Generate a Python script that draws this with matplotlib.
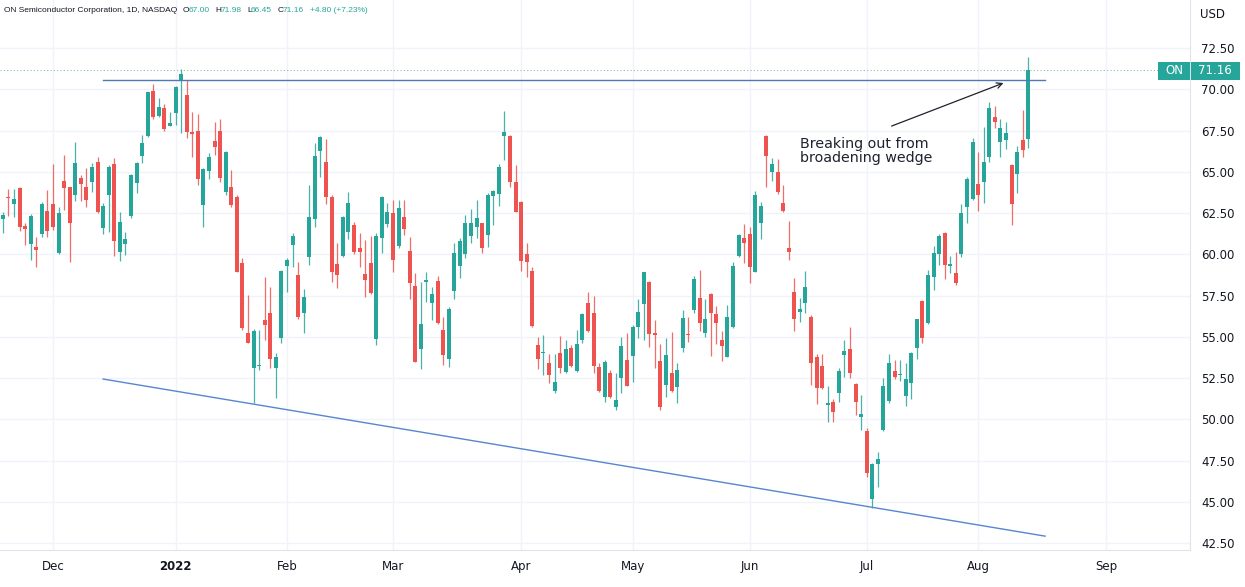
import numpy as np
import pandas as pd
import matplotlib
matplotlib.use('Agg')
import matplotlib.pyplot as plt

# trading calendar (NASDAQ), Nov 17 2021 .. Sep 30 2022
holidays = ['2021-11-25', '2021-12-24', '2022-01-17', '2022-02-21', '2022-04-15',
            '2022-05-30', '2022-06-20', '2022-07-04', '2022-09-05']
first_day, axis_end = '2021-11-17', '2022-09-30'

month_starts = ['2021-12', '2022-01', '2022-02', '2022-03', '2022-04',
                '2022-05', '2022-06', '2022-07', '2022-08', '2022-09']
month_labels = ['Dec', '2022', 'Feb', 'Mar', 'Apr', 'May', 'Jun', 'Jul', 'Aug', 'Sep']

# daily OHLC
opens = [62.12, 63.49, 63.05, 64.03, 61.71, 60.62, 60.46, 61.21, 62.64, 63.04,
         60.10, 64.46, 64.06, 63.59, 64.60, 64.06, 64.40, 65.58, 61.57, 63.59,
         65.47, 60.15, 60.62, 62.32, 64.34, 65.95, 67.17, 69.89, 68.38, 68.85,
         67.79, 68.54, 70.56, 69.65, 67.43, 67.49, 62.98, 65.05, 66.89, 67.49,
         63.79, 64.06, 63.45, 59.45, 55.21, 53.09, 53.23, 56.02, 56.42, 53.09,
         54.91, 59.31, 60.56, 58.74, 56.42, 59.85, 62.12, 66.28, 65.61, 63.45,
         59.41, 59.89, 61.37, 61.77, 60.36, 58.78, 59.49, 54.88, 60.97, 61.83,
         62.48, 60.50, 62.28, 60.20, 58.08, 54.25, 58.34, 57.06, 58.38, 55.41,
         53.63, 57.77, 59.31, 60.02, 61.11, 61.67, 61.88, 61.17, 63.55, 63.65,
         67.17, 67.17, 64.40, 63.19, 60.00, 58.98, 54.50, 54.03, 53.43, 51.73,
         54.00, 52.84, 54.30, 52.92, 54.83, 57.03, 56.42, 53.15, 51.37, 52.82,
         50.76, 52.48, 53.59, 53.83, 55.61, 56.98, 58.34, 55.25, 53.55, 52.08,
         52.82, 51.97, 54.30, 55.17, 56.62, 57.37, 55.21, 57.59, 56.36, 54.80,
         53.79, 55.61, 59.89, 60.97, 61.23, 58.94, 61.91, 67.17, 65.00, 64.97,
         63.13, 60.36, 57.73, 56.52, 57.06, 56.22, 53.75, 53.23, 50.86, 51.06,
         51.57, 53.89, 54.24, 52.14, 50.12, 49.28, 45.15, 47.29, 49.38, 51.12,
         52.94, 52.68, 51.41, 52.18, 54.30, 57.17, 55.85, 58.61, 60.02, 61.27,
         59.27, 58.85, 60.02, 62.85, 63.33, 64.26, 64.40, 65.88, 68.34, 66.82,
         66.92, 65.41, 64.86, 66.92, 67.00]
highs = [62.58, 63.95, 63.95, 64.10, 61.88, 62.44, 61.06, 63.17, 63.89, 65.47,
         62.88, 66.00, 64.10, 66.78, 64.80, 65.21, 65.51, 65.91, 63.09, 65.41,
         65.82, 62.54, 61.37, 64.85, 65.61, 67.23, 69.85, 70.30, 69.45, 69.11,
         68.64, 70.20, 71.21, 70.56, 68.64, 68.50, 65.21, 66.12, 68.00, 68.20,
         66.25, 65.11, 63.59, 59.75, 57.53, 55.45, 55.41, 58.64, 57.99, 53.99,
         59.05, 59.75, 61.31, 59.55, 57.88, 64.20, 66.72, 67.17, 66.97, 63.59,
         60.66, 62.30, 63.79, 61.98, 61.27, 60.86, 61.11, 61.27, 63.55, 63.09,
         63.29, 63.29, 63.29, 61.03, 58.88, 58.34, 58.91, 57.99, 58.68, 56.22,
         56.82, 60.66, 60.97, 62.38, 62.72, 63.29, 61.90, 63.73, 63.89, 65.45,
         68.70, 67.20, 65.41, 63.25, 60.66, 59.25, 54.97, 55.11, 53.94, 53.94,
         55.05, 54.80, 54.50, 55.41, 56.44, 57.69, 57.47, 53.39, 53.59, 52.98,
         52.79, 54.97, 55.25, 55.71, 57.27, 58.95, 58.40, 56.02, 54.56, 54.91,
         55.30, 53.43, 56.62, 56.22, 58.68, 59.05, 57.29, 57.67, 56.86, 55.35,
         56.92, 59.55, 61.20, 61.83, 61.67, 63.83, 63.19, 67.20, 65.82, 65.75,
         64.20, 62.03, 58.54, 57.33, 59.01, 56.32, 53.95, 53.95, 52.02, 51.21,
         53.09, 54.80, 55.61, 52.20, 51.47, 49.45, 47.35, 48.03, 52.48, 53.95,
         53.59, 53.59, 53.43, 54.10, 56.10, 57.20, 59.05, 60.50, 61.23, 61.37,
         59.89, 60.15, 63.05, 64.66, 67.03, 66.22, 67.70, 69.25, 69.00, 68.18,
         68.03, 65.45, 66.56, 68.74, 71.98]
lows = [61.27, 62.32, 62.24, 61.43, 60.56, 59.65, 59.21, 61.06, 61.03, 61.47,
        60.00, 62.68, 59.55, 63.25, 63.25, 62.88, 63.79, 62.50, 61.23, 61.37,
        59.91, 59.61, 59.95, 62.20, 63.69, 65.51, 67.10, 68.18, 68.30, 67.47,
        67.75, 67.83, 67.37, 67.03, 65.91, 64.20, 61.67, 64.54, 66.02, 64.40,
        63.59, 62.88, 58.90, 55.41, 54.60, 50.97, 52.98, 54.80, 53.09, 51.27,
        54.60, 57.73, 59.25, 56.10, 55.25, 59.35, 61.67, 64.66, 63.05, 58.34,
        57.94, 59.85, 60.92, 60.02, 59.25, 57.39, 57.59, 54.50, 60.06, 61.67,
        58.94, 60.36, 61.17, 57.27, 53.45, 53.03, 57.12, 56.02, 55.80, 53.29,
        53.19, 57.27, 58.54, 59.75, 60.66, 60.97, 60.10, 60.46, 61.77, 62.92,
        65.71, 64.10, 62.55, 59.00, 58.64, 55.61, 53.03, 52.68, 52.22, 51.57,
        52.82, 52.79, 53.19, 52.88, 54.60, 55.30, 52.82, 51.67, 51.06, 51.27,
        50.56, 51.61, 52.00, 52.28, 54.91, 54.80, 54.36, 53.09, 50.56, 51.37,
        51.67, 50.97, 54.10, 54.70, 56.42, 55.37, 55.00, 53.83, 54.56, 53.55,
        53.75, 55.51, 59.85, 59.49, 58.28, 58.90, 60.92, 64.10, 64.44, 63.65,
        62.58, 59.65, 55.37, 55.91, 56.46, 52.08, 50.92, 51.82, 49.85, 49.85,
        51.06, 52.58, 52.48, 50.26, 49.35, 46.52, 44.60, 45.91, 49.30, 51.00,
        52.42, 52.34, 50.80, 51.21, 53.63, 54.60, 55.80, 57.83, 59.35, 58.48,
        58.85, 58.14, 59.81, 61.88, 63.30, 62.64, 63.09, 65.61, 67.63, 65.88,
        66.36, 61.77, 63.69, 65.91, 66.45]
closes = [62.38, 63.43, 63.35, 61.63, 61.51, 62.32, 60.26, 63.02, 61.43, 61.67,
          62.52, 64.03, 61.91, 65.51, 64.24, 63.29, 65.27, 62.54, 62.94, 65.27,
          60.82, 61.98, 60.92, 64.80, 65.51, 66.77, 69.81, 68.30, 68.91, 67.59,
          67.94, 70.15, 70.92, 67.43, 67.27, 64.54, 65.15, 65.91, 66.48, 64.60,
          66.22, 62.98, 58.94, 55.51, 54.64, 55.37, 53.29, 55.71, 53.63, 53.75,
          59.01, 59.65, 61.11, 56.18, 57.43, 62.28, 65.95, 67.09, 63.45, 58.94,
          58.77, 62.24, 63.09, 60.15, 60.15, 58.44, 57.67, 61.09, 63.49, 62.58,
          59.65, 62.83, 61.51, 58.28, 53.49, 55.79, 58.42, 57.59, 55.85, 53.89,
          56.67, 60.10, 60.78, 61.91, 61.91, 62.18, 60.36, 63.59, 63.83, 65.31,
          67.39, 64.40, 62.58, 59.59, 59.55, 55.67, 53.63, 54.10, 52.68, 52.28,
          53.09, 54.24, 53.23, 54.54, 56.36, 55.35, 53.23, 51.73, 53.45, 51.33,
          51.17, 54.44, 52.02, 55.61, 56.48, 58.91, 55.17, 55.11, 50.76, 53.89,
          51.73, 52.98, 56.16, 55.11, 58.50, 55.82, 56.08, 56.46, 55.85, 54.46,
          56.22, 59.31, 61.15, 60.66, 59.25, 63.59, 62.92, 65.97, 65.47, 63.79,
          62.64, 60.12, 56.06, 56.67, 58.03, 53.43, 51.88, 51.88, 51.00, 50.46,
          52.94, 54.16, 52.79, 51.06, 50.30, 46.72, 47.29, 47.57, 52.02, 53.43,
          52.58, 52.74, 52.44, 54.04, 56.06, 54.91, 58.74, 60.06, 61.11, 59.35,
          59.41, 58.24, 62.52, 64.54, 66.78, 63.59, 65.57, 68.85, 68.03, 67.63,
          67.33, 63.05, 66.22, 66.32, 71.16]

# drawings: (date, price) pairs
resistance = [('2021-12-14', 70.56), ('2022-08-17', 70.56)]
support = [('2021-12-14', 52.44), ('2022-08-17', 42.92)]
arrow_from = ('2022-07-08', 67.71)
arrow_to = ('2022-08-08', 70.44)
note_at = ('2022-06-14', 67.12)
note = 'Breaking out from\nbroadening wedge'
last_price = 71.16
header = [('ON Semiconductor Corporation, 1D, NASDAQ', 'dark'),
          ('O', 'dark'), ('67.00', 'up'), ('H', 'dark'), ('71.98', 'up'),
          ('L', 'dark'), ('66.45', 'up'), ('C', 'dark'), ('71.16', 'up'),
          ('+4.80 (+7.23%)', 'up')]

GREEN = '#26a69a'
RED = '#ef5350'
TXT = '#131722'
GRID = '#f0f3fa'

# trading-day index axis
days = pd.bdate_range(first_day, axis_end)
days = days[~days.isin(pd.to_datetime(holidays))]
n = len(opens)


def day_x(d):
    return days.searchsorted(pd.Timestamp(d))


tick_x = [int(np.argmax(days.strftime('%Y-%m') == m)) for m in month_starts]

o = np.array(opens)
h = np.array(highs)
l = np.array(lows)
c = np.array(closes)
x = np.arange(n)
cols = np.where(c >= o, GREEN, RED)

fig = plt.figure(figsize=(12.45, 5.87), dpi=100)
ax = fig.add_axes([0, 37 / 587, 1190 / 1245, 550 / 587])

# candles
ax.vlines(x, l, h, colors=cols, lw=0.9, alpha=0.85, zorder=3)
body = np.maximum(np.abs(c - o), 0.05)
ax.bar(x, body, bottom=np.minimum(o, c), width=0.72, color=cols, lw=0, zorder=4)

# trendlines
ax.plot([day_x(d) for d, _ in resistance], [p for _, p in resistance],
        color='#4e79b5', lw=1.0, zorder=5)
ax.plot([day_x(d) for d, _ in support], [p for _, p in support],
        color='#5786d0', lw=1.0, zorder=5)
ax.axhline(last_price, color='#8fbdb7', lw=0.8, ls=(0, (1, 2)), zorder=2)

ax.annotate('', xy=(day_x(arrow_to[0]), arrow_to[1]),
            xytext=(day_x(arrow_from[0]), arrow_from[1]),
            arrowprops=dict(arrowstyle='->', color='#1e222d', lw=0.9), zorder=6)
ax.text(day_x(note_at[0]), note_at[1], note, fontsize=10.3, color='#1e222d',
        va='top', ha='left', linespacing=1.0, zorder=6)

ax.set_xlim(-0.5, 213)
ax.set_ylim(42.08, 75.41)

ax.yaxis.tick_right()
yt = np.arange(42.5, 72.6, 2.5)
ax.set_yticks(yt)
ax.set_yticklabels([f'{v:.2f}' for v in yt])
ax.set_xticks(tick_x)
ax.set_xticklabels(month_labels)
for t in ax.get_xticklabels():
    if t.get_text() == '2022':
        t.set_fontweight('bold')
ax.tick_params(axis='y', length=0, pad=8, labelsize=8.5, labelcolor=TXT)
ax.tick_params(axis='x', length=0, pad=7, labelsize=8.5, labelcolor=TXT)
ax.grid(True, color=GRID, lw=1, zorder=0)
ax.set_axisbelow(True)
for s in ['top', 'left']:
    ax.spines[s].set_visible(False)
for s in ['right', 'bottom']:
    ax.spines[s].set_color('#e0e3eb')

fig.text(1200 / 1245, 1 - 14 / 587, 'USD', fontsize=8.5, color=TXT, va='center')

# header line, each piece placed right after the previous one
prev = fig.text(4 / 1245, 1 - 11 / 587, header[0][0], fontsize=6,
                family='Liberation Sans', color=TXT, va='center')
for i, (s, kind) in enumerate(header[1:], start=1):
    gap = -0.5 if (len(header[i - 1][0]) == 1 and kind == 'up') else 4
    prev = fig.add_artist(plt.Annotation(
        s, xy=(1, 0.5), xycoords=prev, xytext=(gap, 0), textcoords='offset points',
        fontsize=6, family='Liberation Sans', color=GREEN if kind == 'up' else TXT,
        va='center', ha='left'))

# last price tag
ty = 1 - 70.5 / 587
fig.patches.append(plt.Rectangle((1158 / 1245, 1 - 80 / 587), 32 / 1245, 18 / 587,
                                 transform=fig.transFigure, color=GREEN, lw=0))
fig.patches.append(plt.Rectangle((1191 / 1245, 1 - 80 / 587), 49 / 1245, 18 / 587,
                                 transform=fig.transFigure, color=GREEN, lw=0))
fig.text(1174 / 1245, ty, 'ON', fontsize=8.5, color='white', ha='center', va='center')
fig.text(1215 / 1245, ty, f'{last_price:.2f}', fontsize=8.5, color='white',
         ha='center', va='center')

fig.savefig('out.png', dpi=100)
